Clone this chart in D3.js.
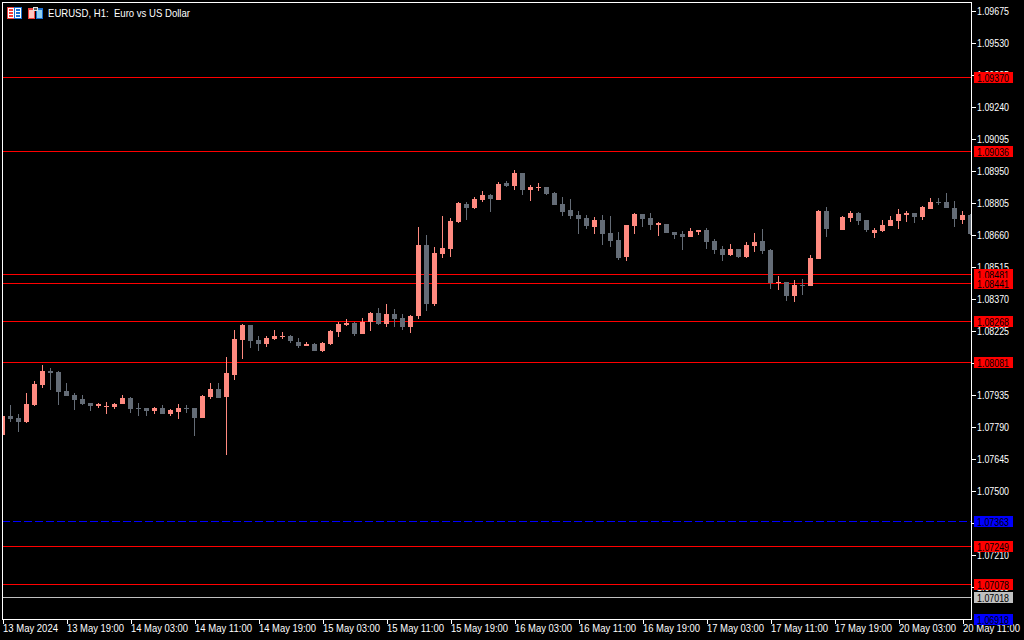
<!DOCTYPE html>
<html>
<head>
<meta charset="utf-8">
<script src="https://d3js.org/d3.v7.min.js"></script>
<style>
  html, body { margin: 0; padding: 0; background: #000; }
  svg { display: block; }
  text { font-family: "Liberation Sans", sans-serif; font-size: 11px; fill: #fff; white-space: pre; }
</style>
</head>
<body>
<svg id="chart" width="1024" height="640"></svg>
<script>
const title = "EURUSD, H1:  Euro vs US Dollar";

const opens = [
  1.07752,1.07837,1.07828,1.07810,1.07888,1.07978,1.08042,1.08037,1.07951,1.07933,1.07915,1.07897,1.07883,1.07879,1.07879,1.07892,
  1.07919,1.07874,1.07874,1.07860,1.07874,1.07846,1.07855,1.07874,1.07874,1.07828,1.07924,1.07960,1.07924,1.08024,1.08182,1.08250,
  1.08182,1.08164,1.08187,1.08196,1.08200,1.08173,1.08155,1.08164,1.08132,1.08164,1.08218,1.08250,1.08259,1.08209,1.08263,1.08305,
  1.08254,1.08300,1.08282,1.08241,1.08291,1.08613,1.08345,1.08571,1.08595,1.08717,1.08798,1.08780,1.08816,1.08839,1.08816,1.08894,
  1.08880,1.08939,1.08862,1.08871,1.08875,1.08848,1.08798,1.08771,1.08749,1.08735,1.08694,1.08726,1.08667,1.08635,1.08558,1.08698,
  1.08753,1.08735,1.08703,1.08708,1.08671,1.08662,1.08649,1.08671,1.08680,1.08631,1.08595,1.08567,1.08595,1.08558,1.08608,1.08631,
  1.08590,1.08440,1.08445,1.08381,1.08431,1.08426,1.08549,1.08767,null,1.08680,1.08735,1.08758,1.08726,1.08667,1.08676,1.08698,
  1.08721,1.08749,1.08758,1.08739,1.08775,1.08807,1.08807,1.08780,1.08726,1.08749
];
const highs = [
  1.07837,1.07888,1.07846,1.07942,1.07996,1.08069,1.08055,1.08042,1.07987,1.07942,1.07933,1.07897,1.07897,1.07901,1.07897,1.07933,
  1.07924,1.07897,1.07874,1.07879,1.07888,1.07870,1.07892,1.07888,1.07874,1.07933,1.07987,1.07987,1.08105,1.08227,1.08254,1.08250,
  1.08200,1.08200,1.08227,1.08218,1.08205,1.08191,1.08173,1.08169,1.08173,1.08227,1.08263,1.08278,1.08263,1.08282,1.08309,1.08327,
  1.08345,1.08323,1.08300,1.08296,1.08694,1.08658,1.08604,1.08744,1.08735,1.08807,1.08807,1.08830,1.08857,1.08843,1.08898,1.08903,
  1.08952,1.08939,1.08885,1.08894,1.08875,1.08852,1.08830,1.08821,1.08767,1.08749,1.08739,1.08749,1.08744,1.08671,1.08703,1.08758,
  1.08753,1.08758,1.08717,1.08708,1.08671,1.08676,1.08689,1.08680,1.08689,1.08640,1.08608,1.08617,1.08595,1.08626,1.08667,1.08685,
  1.08595,1.08472,1.08445,1.08454,1.08458,1.08567,1.08771,1.08785,null,1.08744,1.08767,1.08762,1.08726,1.08689,1.08726,1.08744,
  1.08775,1.08767,1.08758,1.08789,1.08825,1.08825,1.08848,1.08812,1.08767,1.08753
];
const lows = [
  1.07752,1.07810,1.07765,1.07806,1.07883,1.07964,1.07955,1.07888,1.07928,1.07865,1.07888,1.07860,1.07874,1.07846,1.07870,1.07892,
  1.07851,1.07837,1.07837,1.07846,1.07846,1.07837,1.07824,1.07851,1.07747,1.07828,1.07915,1.07919,1.07661,1.08001,1.08096,1.08146,
  1.08132,1.08151,1.08182,1.08187,1.08169,1.08146,1.08155,1.08132,1.08127,1.08160,1.08196,1.08245,1.08200,1.08209,1.08223,1.08250,
  1.08241,1.08241,1.08227,1.08214,1.08278,1.08314,1.08336,1.08553,1.08558,1.08712,1.08726,1.08775,1.08807,1.08762,1.08816,1.08875,
  1.08862,1.08839,1.08812,1.08857,1.08839,1.08794,1.08744,1.08730,1.08662,1.08685,1.08662,1.08613,1.08604,1.08544,1.08540,1.08662,
  1.08694,1.08680,1.08653,1.08667,1.08640,1.08590,1.08649,1.08658,1.08595,1.08571,1.08540,1.08562,1.08553,1.08553,1.08581,1.08571,
  1.08413,1.08408,1.08359,1.08354,1.08386,1.08426,1.08549,1.08649,null,1.08680,1.08717,1.08703,1.08671,1.08644,1.08671,1.08698,
  1.08685,1.08717,1.08712,1.08726,1.08775,1.08794,1.08780,1.08694,1.08708,1.08658
];
const closes = [
  1.07837,1.07824,1.07810,1.07892,1.07982,1.08042,1.08033,1.07946,1.07928,1.07910,1.07892,1.07883,1.07892,1.07883,1.07892,1.07919,
  1.07870,1.07870,1.07860,1.07874,1.07846,1.07865,1.07874,1.07870,1.07828,1.07928,1.07960,1.07919,1.08033,1.08187,1.08250,1.08178,
  1.08164,1.08191,1.08200,1.08200,1.08178,1.08155,1.08164,1.08132,1.08169,1.08223,1.08254,1.08259,1.08209,1.08263,1.08305,1.08254,
  1.08300,1.08278,1.08241,1.08291,1.08613,1.08345,1.08576,1.08599,1.08721,1.08803,1.08780,1.08821,1.08839,1.08821,1.08889,1.08880,
  1.08939,1.08862,1.08875,1.08875,1.08843,1.08794,1.08762,1.08744,1.08730,1.08698,1.08726,1.08662,1.08631,1.08553,1.08703,1.08753,
  1.08730,1.08703,1.08712,1.08667,1.08658,1.08649,1.08676,1.08680,1.08626,1.08590,1.08567,1.08595,1.08558,1.08613,1.08626,1.08585,
  1.08440,1.08445,1.08381,1.08431,1.08426,1.08553,1.08767,1.08685,null,1.08739,1.08758,1.08721,1.08680,1.08680,1.08703,1.08726,
  1.08753,1.08758,1.08739,1.08785,1.08807,1.08803,1.08780,1.08730,1.08749,1.08662
];

const priceTicks = [
  1.09675,1.09530,1.09385,1.09240,1.09095,1.08950,1.08805,1.08660,1.08515,1.08370,
  1.08225,1.08080,1.07935,1.07790,1.07645,1.07500,1.07355,1.07210,1.07065
];
const timeLabels = [
  "13 May 2024","13 May 19:00","14 May 03:00","14 May 11:00","14 May 19:00","15 May 03:00","15 May 11:00","15 May 19:00",
  "16 May 03:00","16 May 11:00","16 May 19:00","17 May 03:00","17 May 11:00","17 May 19:00","20 May 03:00","20 May 11:00"
];
const redLevels = [1.09370, 1.09036, 1.08481, 1.08441, 1.08268, 1.08081, 1.07249, 1.07078];
const blueLevel = 1.07363;
const greyLevel = 1.07018;
const blueTag = 1.06918;

const bullColor = "#ff8a80", bearColor = "#646c76";
const plotLeft = 2, plotRight = 971, plotTop = 2, plotBottom = 619;
const barsPerLabel = 8;

const svg = d3.select("#chart");
svg.append("rect").attr("width", 1024).attr("height", 640).attr("fill", "#000");

svg.append("clipPath").attr("id", "plot").append("rect")
  .attr("x", plotLeft).attr("y", plotTop)
  .attr("width", plotRight - plotLeft).attr("height", plotBottom - plotTop);

const x = d3.scaleLinear().domain([0, opens.length - 1]).range([2.5, 2.5 + 8 * (opens.length - 1)]);
const y = d3.scaleLinear().domain([priceTicks[0], priceTicks[priceTicks.length - 1]]).range([10.5, 586.5]);
// level lines land on slightly different pixel rows than the ticks
const yLevel = d3.scaleLinear().domain(y.domain()).range([10.6, 586.96]);
const levelRow = function (d) { return Math.floor(yLevel(d)); };
const fmt = d3.format(".5f");

// header icons
const icons = svg.append("g").attr("shape-rendering", "crispEdges");
icons.append("rect").attr("x", 7).attr("y", 7).attr("width", 8).attr("height", 12).attr("fill", "#f0403c");
icons.append("rect").attr("x", 14).attr("y", 7).attr("width", 8).attr("height", 12).attr("fill", "#1a6fd0");
icons.append("rect").attr("x", 8).attr("y", 8).attr("width", 6).attr("height", 10).attr("fill", "#fff");
icons.append("rect").attr("x", 15).attr("y", 8).attr("width", 6).attr("height", 10).attr("fill", "#fff");
[9, 12, 15].forEach(function (r) {
  icons.append("rect").attr("x", 9).attr("y", r).attr("width", 4).attr("height", 2).attr("fill", "#f0403c");
  icons.append("rect").attr("x", 16).attr("y", r).attr("width", 4).attr("height", 2).attr("fill", "#1a6fd0");
});
icons.append("rect").attr("x", 28).attr("y", 8).attr("width", 7).attr("height", 11).attr("fill", "#f0403c");
icons.append("rect").attr("x", 29).attr("y", 10).attr("width", 5).attr("height", 8).attr("fill", "#ffc8c0");
icons.append("rect").attr("x", 36).attr("y", 8).attr("width", 7).attr("height", 11).attr("fill", "#1a6fd0");
icons.append("rect").attr("x", 37).attr("y", 10).attr("width", 5).attr("height", 8).attr("fill", "#90d0f0");
icons.append("rect").attr("x", 33).attr("y", 7).attr("width", 5).attr("height", 4).attr("fill", "#e0e0e0");
icons.append("rect").attr("x", 34).attr("y", 8).attr("width", 3).attr("height", 2).attr("fill", "#555");

svg.append("text").attr("x", 48).attr("y", 17)
  .attr("textLength", 142).attr("lengthAdjust", "spacingAndGlyphs").text(title);

// levels
const levels = svg.append("g").attr("shape-rendering", "crispEdges");
levels.selectAll("line.red").data(redLevels).enter().append("line")
  .attr("class", "red")
  .attr("x1", plotLeft).attr("x2", plotRight)
  .attr("y1", function (d) { return levelRow(d) + 0.5; })
  .attr("y2", function (d) { return levelRow(d) + 0.5; })
  .attr("stroke", "#f00");
levels.append("line")
  .attr("x1", plotLeft).attr("x2", plotRight)
  .attr("y1", levelRow(blueLevel) + 0.5).attr("y2", levelRow(blueLevel) + 0.5)
  .attr("stroke", "#00f").attr("stroke-dasharray", "8,3");
levels.append("line")
  .attr("x1", plotLeft).attr("x2", plotRight)
  .attr("y1", levelRow(greyLevel) + 0.5).attr("y2", levelRow(greyLevel) + 0.5)
  .attr("stroke", "#c0c0c0");

// candles
const bars = d3.range(opens.length).filter(function (i) { return opens[i] !== null; });
const candles = svg.append("g").attr("shape-rendering", "crispEdges").attr("clip-path", "url(#plot)")
  .selectAll("g").data(bars).enter().append("g");
candles.append("line")
  .attr("x1", function (i) { return x(i); })
  .attr("x2", function (i) { return x(i); })
  .attr("y1", function (i) { return Math.round(y(highs[i])); })
  .attr("y2", function (i) { return Math.round(y(lows[i])); })
  .attr("stroke", function (i) { return closes[i] >= opens[i] ? bullColor : bearColor; });
candles.append("rect")
  .attr("x", function (i) { return x(i) - 2.5; })
  .attr("width", 5)
  .attr("y", function (i) { return Math.round(y(Math.max(opens[i], closes[i]))); })
  .attr("height", function (i) {
    return Math.max(1, Math.round(y(Math.min(opens[i], closes[i]))) - Math.round(y(Math.max(opens[i], closes[i]))));
  })
  .attr("fill", function (i) { return closes[i] >= opens[i] ? bullColor : bearColor; });

// frame
const frame = svg.append("g").attr("shape-rendering", "crispEdges");
frame.append("path")
  .attr("d", "M" + (plotLeft + 0.5) + "," + (plotBottom + 0.5) + "V" + (plotTop + 0.5) + "H" + (plotRight + 0.5) + "V" + (plotBottom + 0.5) + "H" + (plotLeft + 0.5))
  .attr("fill", "none").attr("stroke", "#fff");

// price axis
const yAxis = d3.axisRight(y).tickValues(priceTicks).tickFormat(fmt).tickSize(4).tickPadding(1);
const yG = svg.append("g").attr("transform", "translate(" + (plotRight + 1) + ",0)").call(yAxis);
yG.select(".domain").remove();
yG.selectAll("line").attr("stroke", "#fff").attr("shape-rendering", "crispEdges");
yG.selectAll("text").attr("font-size", null).attr("font-family", null)
  .attr("textLength", 32).attr("lengthAdjust", "spacingAndGlyphs");

// time axis
const timeIdx = timeLabels.map(function (d, i) { return i * barsPerLabel; });
const xAxis = d3.axisBottom(x).tickValues(timeIdx)
  .tickFormat(function (d, i) { return timeLabels[i]; }).tickSize(4).tickPadding(0);
const xG = svg.append("g").attr("transform", "translate(0," + (plotBottom + 1) + ")").call(xAxis);
xG.select(".domain").remove();
xG.selectAll("line").attr("stroke", "#fff").attr("shape-rendering", "crispEdges");
xG.selectAll("text").attr("text-anchor", "start").attr("x", 0).attr("font-size", null).attr("font-family", null)
  .attr("textLength", function (d, i) { return i === 0 ? 55 : 57; }).attr("lengthAdjust", "spacingAndGlyphs");

// price tags on top of the axis labels
const tags = [];
redLevels.forEach(function (d) { tags.push({ v: d, bg: "#f00" }); });
tags.push({ v: blueLevel, bg: "#00f" }, { v: greyLevel, bg: "#c0c0c0" }, { v: blueTag, bg: "#00f" });
const tag = svg.append("g").selectAll("g").data(tags).enter().append("g")
  .attr("transform", function (d) { return "translate(974," + levelRow(d.v) + ")"; });
tag.append("rect").attr("x", 0).attr("y", -5).attr("width", 39).attr("height", 11)
  .attr("fill", function (d) { return d.bg; }).attr("shape-rendering", "crispEdges");
tag.append("text").attr("x", 3).attr("y", 4.5).style("fill", "#000")
  .attr("textLength", 32).attr("lengthAdjust", "spacingAndGlyphs")
  .text(function (d) { return fmt(d.v); });
</script>
</body>
</html>
